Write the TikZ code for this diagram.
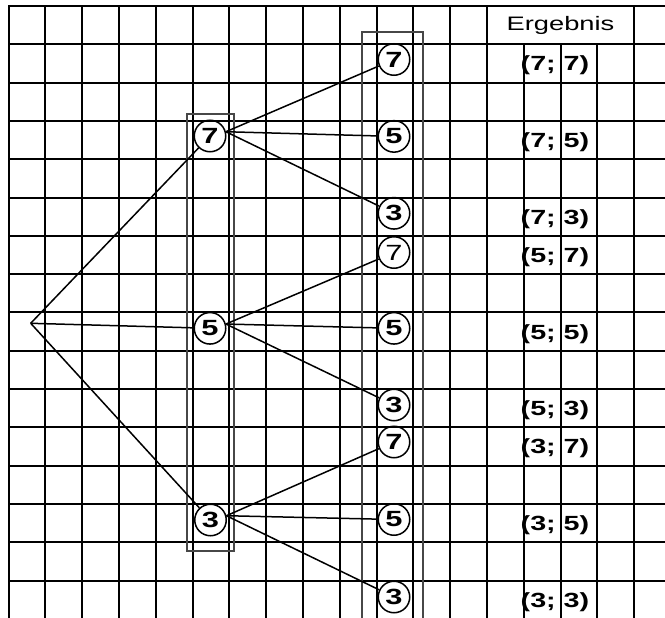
\documentclass[tikz,border=0pt]{standalone}
\usepackage{fontspec}
\setmainfont{Liberation Sans}
\newfontfamily\widefont[FakeStretch=1.4]{Liberation Sans}
\begin{document}
\begin{tikzpicture}[x=1pt,y=-1pt,
  gridline/.style={line width=2pt, line cap=rect},
  frame/.style={draw=black!72, line width=1.8pt},
  num/.style={circle, draw, line width=1.5pt, minimum size=31.5pt, inner sep=0pt, font=\widefont\fontsize{22}{22}\selectfont\bfseries},
  numthin/.style={num, font=\widefont\fontsize{22}{22}\selectfont},
  res/.style={font=\widefont\fontsize{20.5}{20.5}\selectfont\bfseries, inner sep=0pt},
  head/.style={font=\widefont\fontsize{19.5}{19.5}\selectfont, inner sep=0pt},
  edge/.style={line width=1.5pt}]
\useasboundingbox (0,0) rectangle (665,618);
% grid
\foreach \k in {0,...,15}{
  \pgfmathsetmacro\yy{round(6+38.3*\k)}
  \draw[gridline] (9,\yy) -- (666,\yy);
}
\foreach \k in {0,...,13,17}{
  \pgfmathsetmacro\xx{round(8.5+36.8*\k)}
  \draw[gridline] (\xx,6) -- (\xx,620);
}
\foreach \k in {14,15,16}{
  \pgfmathsetmacro\xx{round(8.5+36.8*\k)}
  \draw[gridline] (\xx,44) -- (\xx,620);
}
% frames
\draw[frame] (187,114) rectangle (234,551);
\draw[frame] (362,32) rectangle (423,630);
% nodes
\coordinate (root) at (30.7,323.3);
\node[num] (a7) at (210,136) {7};
\node[num] (a5) at (210,328.3) {5};
\node[num] (a3) at (210.5,520) {3};
\node[num] (b77) at (394,59.5) {7};
\node[num] (b75) at (394,136.4) {5};
\node[num] (b73) at (394,213.3) {3};
\node[numthin] (b57) at (394,252.5) {7};
\node[num] (b55) at (394,328.3) {5};
\node[num] (b53) at (394,405) {3};
\node[num] (b37) at (394,442) {7};
\node[num] (b35) at (394,519.5) {5};
\node[num] (b33) at (394,597) {3};
% edges
\draw[edge] (root) -- (a7);
\draw[edge] (root) -- (a5);
\draw[edge] (root) -- (a3);
\foreach \s in {77,75,73} \draw[edge] (a7.15) -- (b\s);
\foreach \s in {57,55,53} \draw[edge] (a5.15) -- (b\s);
\foreach \s in {37,35,33} \draw[edge] (a3.15) -- (b\s);
% results
\node[head] (hd) at (560.5,25) {Ergebnis};
\node[res] (r77) at (555,65.5) {(7; 7)};
\node[res] (r75) at (555,142) {(7; 5)};
\node[res] (r73) at (555,218.7) {(7; 3)};
\node[res] (r57) at (555,257) {(5; 7)};
\node[res] (r55) at (555,333.7) {(5; 5)};
\node[res] (r53) at (555,410.3) {(5; 3)};
\node[res] (r37) at (555,448.6) {(3; 7)};
\node[res] (r35) at (555,525.2) {(3; 5)};
\node[res] (r33) at (555,602) {(3; 3)};
\end{tikzpicture}
\end{document}
